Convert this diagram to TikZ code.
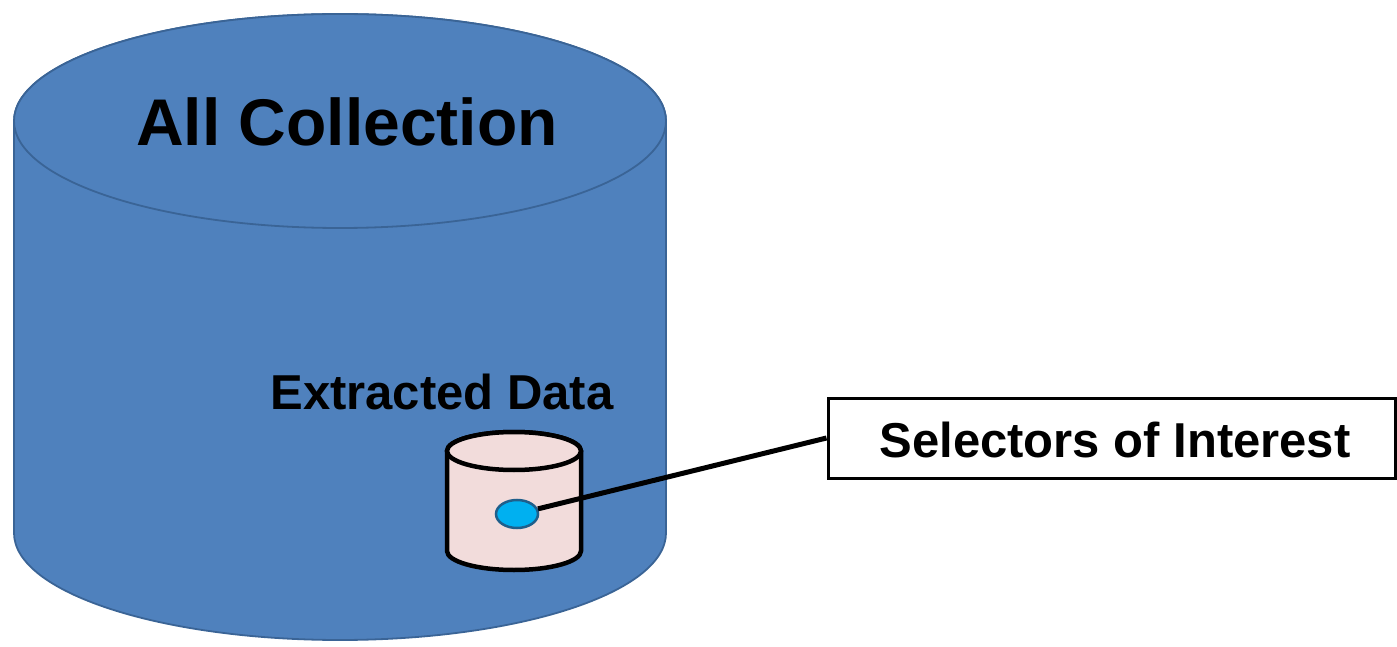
\documentclass[tikz,border=0pt]{standalone}
\usepackage{fontspec}
\setmainfont{Liberation Sans}
\usetikzlibrary{shapes.geometric}
\definecolor{bigblue}{HTML}{4F81BD}
\definecolor{bigedge}{HTML}{3A6496}
\definecolor{pinkfill}{HTML}{F2DCDB}
\definecolor{dotblue}{HTML}{00B0F0}
\definecolor{dotedge}{HTML}{1F5F8B}
\begin{document}
\begin{tikzpicture}[x=1pt,y=1pt,
  bigcyl/.style={fill=bigblue,draw=bigedge,line width=1.8pt},
  smallcyl/.style={fill=pinkfill,draw=black,line width=4.5pt},
  title/.style={font=\bfseries\fontsize{66}{70}\selectfont,inner sep=0pt},
  label/.style={font=\bfseries\fontsize{49}{52}\selectfont,inner sep=0pt},
  selbox/.style={draw=black,fill=white,line width=3pt,minimum width=567pt,minimum height=80pt,inner sep=0pt},
  dotstyle/.style={ellipse,fill=dotblue,draw=dotedge,line width=2.5pt,minimum width=42pt,minimum height=28pt,inner sep=0pt},
  link/.style={draw=black,line width=5pt}]
\useasboundingbox (0,0) rectangle (1397,646);
% big cylinder
\path[bigcyl] (14,525) -- (14,113) arc[start angle=180,end angle=360,x radius=326pt,y radius=107pt] -- (666,525) arc[start angle=0,end angle=180,x radius=326pt,y radius=107pt] -- cycle;
\path[bigcyl] (340,525) ellipse[x radius=326pt,y radius=107pt];
\node[title] (all) at (347,524) {All Collection};
\node[label] (extr) at (442,254) {Extracted Data};
% small cylinder
\path[smallcyl] (447,195) -- (447,95) arc[start angle=180,end angle=360,x radius=67pt,y radius=19pt] -- (581,195) arc[start angle=0,end angle=180,x radius=67pt,y radius=19pt] -- cycle;
\path[smallcyl] (514,195) ellipse[x radius=67pt,y radius=19pt];
\node[dotstyle] (dot) at (517,132) {};
\node[selbox] (box) at (1111.5,208) {};
\node[label] (sel) at (1115,206) {Selectors of Interest};
\draw[link] (dot) -- (box.west);
\end{tikzpicture}
\end{document}
